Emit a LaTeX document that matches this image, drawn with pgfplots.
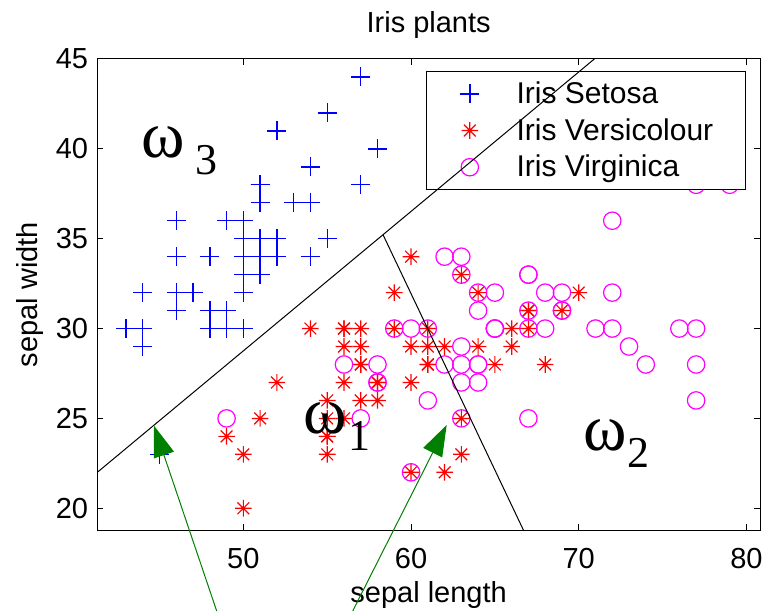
\documentclass[border=0pt]{standalone}
\usepackage{pgfplots}
\pgfplotsset{compat=1.18}
\usepackage{fontspec}
\setmainfont{Liberation Sans}
\newfontfamily\timesf{Liberation Serif}
\usetikzlibrary{arrows.meta}
\definecolor{mblue}{rgb}{0,0,1}
\definecolor{mred}{rgb}{1,0,0}
\definecolor{mmag}{rgb}{1,0,1}
\definecolor{mgreen}{rgb}{0,0.5,0}

\pgfdeclareplotmark{mast}{%
  \pgfpathmoveto{\pgfqpoint{-\pgfplotmarksize}{0pt}}\pgfpathlineto{\pgfqpoint{\pgfplotmarksize}{0pt}}%
  \pgfpathmoveto{\pgfqpoint{0pt}{-\pgfplotmarksize}}\pgfpathlineto{\pgfqpoint{0pt}{\pgfplotmarksize}}%
  \pgfpathmoveto{\pgfqpoint{-.7071\pgfplotmarksize}{-.7071\pgfplotmarksize}}\pgfpathlineto{\pgfqpoint{.7071\pgfplotmarksize}{.7071\pgfplotmarksize}}%
  \pgfpathmoveto{\pgfqpoint{-.7071\pgfplotmarksize}{.7071\pgfplotmarksize}}\pgfpathlineto{\pgfqpoint{.7071\pgfplotmarksize}{-.7071\pgfplotmarksize}}%
  \pgfusepathqstroke
  \pgfpathcircle{\pgfpointorigin}{1.6pt}\pgfusepathqfill}

\pgfplotsset{myleg/.style={legend image code/.code={\path (0pt,0pt) (86pt,0pt); \draw[##1] plot coordinates {(40pt,0pt)};}}}

\begin{document}
\begin{tikzpicture}[x=1pt,y=1pt]
\useasboundingbox (0,0) rectangle (768,611);
\begin{axis}[
  at={(97.3pt,81pt)}, anchor=south west,
  scale only axis, width=662.7pt, height=471pt,
  xmin=41.29, xmax=80.81, ymin=18.79, ymax=45,
  xtick={50,60,70,80}, ytick={20,25,30,35,40,45},
  tick align=inside, major tick length=6pt,
  axis line style={line width=1pt},
  every tick/.style={black, line width=1pt},
  font=\fontsize{29}{34}\selectfont,
  /pgf/number format/assume math mode=true,
  tick label style={inner sep=0pt},
  xticklabel shift=18pt, yticklabel shift=9pt,
  every axis x label/.style={at={(axis description cs:0.5,-0.1083)}, anchor=north, inner sep=0pt},
  every axis y label/.style={at={(axis description cs:-0.0815,0.5)}, rotate=90, anchor=south, inner sep=0pt},
  every axis title/.style={at={(axis description cs:0.5,1.0573)}, anchor=base, inner sep=0pt},
  title={Iris plants}, xlabel={sepal length}, ylabel={sepal width},
  legend style={at={(0.9789,0.9752)}, anchor=north east, draw=black, line width=1pt, fill=white,
    inner xsep=3pt, inner ysep=4.3pt, row sep=0pt, column sep=0pt,
    font=\fontsize{30}{36}\selectfont,
    nodes={inner sep=0pt, text height=28pt, text depth=8.7pt},
    cells={anchor=west}},
]
\addplot[only marks, mark=+, mblue, mark size=9.5pt, line width=1.4pt, myleg] coordinates {
(51,35) (49,30) (47,32) (46,31) (50,36) (54,39) (46,34) (50,34) (44,29) (49,31)
(54,37) (48,34) (48,30) (43,30) (58,40) (57,44) (54,39) (51,35) (57,38) (51,38)
(54,34) (51,37) (46,36) (51,33) (48,34) (50,30) (50,34) (52,35) (52,34) (47,32)
(48,31) (54,34) (52,41) (55,42) (49,31) (50,32) (55,35) (49,36) (44,30) (51,34)
(50,35) (45,23) (44,32) (50,35) (51,38) (48,30) (51,38) (46,32) (53,37) (50,33)};
\addlegendentry{\makebox[226pt][l]{Iris Setosa}}
\addplot[only marks, mark=mast, mred, mark size=8.3pt, line width=1.2pt, myleg] coordinates {
(70,32) (64,32) (69,31) (55,23) (65,28) (57,28) (63,33) (49,24) (66,29) (52,27)
(50,20) (59,30) (60,22) (61,29) (56,29) (67,31) (56,30) (58,27) (62,22) (56,25)
(59,32) (61,28) (63,25) (61,28) (64,29) (66,30) (68,28) (67,30) (60,29) (57,26)
(55,24) (55,24) (58,27) (60,27) (54,30) (60,34) (67,31) (63,23) (56,30) (55,25)
(55,26) (61,30) (58,26) (50,23) (56,27) (57,30) (57,29) (62,29) (51,25) (57,28)};
\addlegendentry{Iris Versicolour}
\addplot[only marks, mark=o, mmag, mark size=8.7pt, line width=1.2pt, myleg] coordinates {
(63,33) (58,27) (71,30) (63,29) (65,30) (76,30) (49,25) (73,29) (67,25) (72,36)
(65,32) (64,27) (68,30) (57,25) (58,28) (64,32) (65,30) (77,38) (77,26) (60,22)
(69,32) (56,28) (77,28) (63,27) (67,33) (72,32) (62,28) (61,30) (64,28) (72,30)
(74,28) (79,38) (64,28) (63,28) (61,26) (77,30) (63,34) (64,31) (60,30) (69,31)
(67,31) (69,31) (58,27) (68,32) (67,33) (67,30) (63,25) (65,30) (62,34) (59,30)};
\addlegendentry{Iris Virginica}
\end{axis}
\begin{axis}[
  at={(97.3pt,81pt)}, anchor=south west,
  scale only axis, width=662.7pt, height=471pt,
  xmin=41.29, xmax=80.81, ymin=18.79, ymax=45,
  hide axis,
]
\addplot[black, line width=1pt] coordinates {(41.29,22.0) (70.93,45)};
\addplot[black, line width=1pt] coordinates {(58.33,35.22) (66.70,18.79)};
\end{axis}
\node[anchor=base west, inner sep=0pt] at (141,453.5) {\timesf\fontsize{66}{70}\selectfont ω};
\node[anchor=base west, inner sep=0pt] at (195,436) {\timesf\fontsize{44}{48}\selectfont 3};
\node[anchor=base west, inner sep=0pt] at (303,178) {\timesf\fontsize{66}{70}\selectfont ω};
\node[anchor=base west, inner sep=0pt] at (348,160.3) {\timesf\fontsize{44}{48}\selectfont 1};
\node[anchor=base west, inner sep=0pt] at (583,161) {\timesf\fontsize{66}{70}\selectfont ω};
\node[anchor=base west, inner sep=0pt] at (627,143.7) {\timesf\fontsize{44}{48}\selectfont 2};
\draw[mgreen, line width=1pt, -{Triangle[length=31pt,width=21pt]}] (216.7,0) -- (154,185.3);
\draw[mgreen, line width=1pt, -{Triangle[length=31pt,width=21pt]}] (352.7,0) -- (446.7,186);
\end{tikzpicture}
\end{document}
